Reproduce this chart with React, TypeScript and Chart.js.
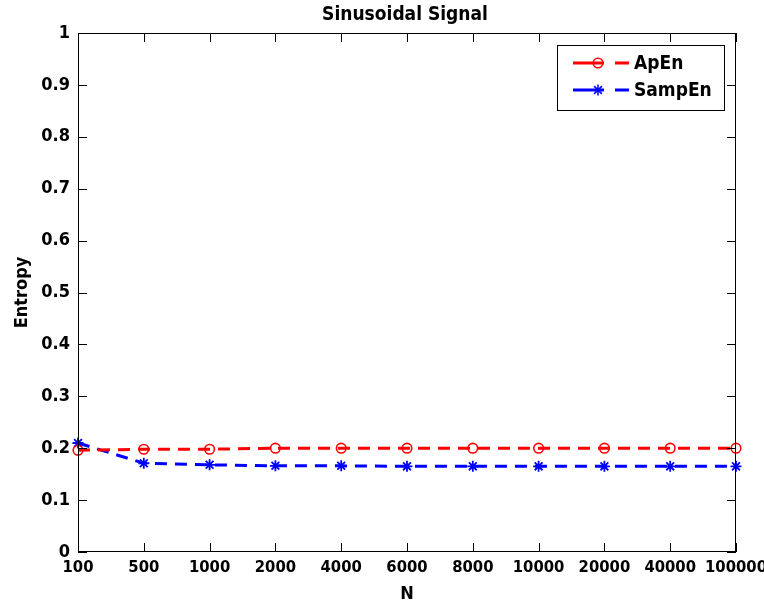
import React, { useEffect, useRef } from "react";
import { Chart, registerables } from "chart.js";

Chart.register(...registerables);

const categories = ["100", "500", "1000", "2000", "4000", "6000", "8000", "10000", "20000", "40000", "100000"];
const apEn = [0.196, 0.198, 0.198, 0.2, 0.2, 0.2, 0.2, 0.2, 0.2, 0.2, 0.2];
const sampEn = [0.21, 0.171, 0.168, 0.166, 0.166, 0.165, 0.165, 0.165, 0.165, 0.165, 0.165];
const titleText = "Sinusoidal Signal";
const xTitle = "N";
const yTitle = "Entropy";

const FONT = '"Liberation Sans Narrow", "DejaVu Sans Condensed", "Liberation Sans", sans-serif';
const FS = 18;

const framePlugin = {
  id: "frame",
  afterDatasetsDraw(chart: any) {
    const { ctx, chartArea: a, scales } = chart;
    ctx.save();
    ctx.strokeStyle = "#000";
    ctx.lineWidth = 1;
    ctx.setLineDash([]);
    ctx.strokeRect(a.left + 0.5, a.top + 0.5, a.right - a.left - 1, a.bottom - a.top - 1);
    const TL = 9;
    ctx.beginPath();
    const xs = scales.x;
    for (let i = 0; i < xs.ticks.length; i++) {
      const px = Math.round(xs.getPixelForTick(i)) + 0.5;
      ctx.moveTo(px, a.bottom);
      ctx.lineTo(px, a.bottom - TL);
      ctx.moveTo(px, a.top);
      ctx.lineTo(px, a.top + TL);
    }
    const ys = scales.y;
    for (let i = 0; i < ys.ticks.length; i++) {
      const py = Math.round(ys.getPixelForTick(i)) + 0.5;
      ctx.moveTo(a.left, py);
      ctx.lineTo(a.left + TL, py);
      ctx.moveTo(a.right, py);
      ctx.lineTo(a.right - TL, py);
    }
    ctx.stroke();

    // title
    ctx.fillStyle = "#000";
    ctx.font = `bold ${FS + 1}px ${FONT}`;
    ctx.textAlign = "center";
    ctx.textBaseline = "middle";
    ctx.fillText(titleText, (a.left + a.right) / 2 - 2, 15);

    // legend
    const lx = 557, ly = 45, lw = 167, lh = 65;
    ctx.fillStyle = "#fff";
    ctx.fillRect(lx, ly, lw, lh);
    ctx.strokeStyle = "#000";
    ctx.lineWidth = 1;
    ctx.strokeRect(lx + 0.5, ly + 0.5, lw, lh);
    chart.data.datasets.forEach((ds: any, i: number) => {
      const y = 63 + i * 27;
      ctx.strokeStyle = ds.borderColor;
      ctx.lineWidth = ds.borderWidth;
      ctx.beginPath();
      ctx.moveTo(573, y);
      ctx.lineTo(604, y);
      ctx.moveTo(615, y);
      ctx.lineTo(629, y);
      ctx.stroke();
      const cx = 598;
      ctx.lineWidth = 1.5;
      ctx.beginPath();
      if (ds.pointStyle === "circle") {
        ctx.arc(cx, y, ds.pointRadius, 0, Math.PI * 2);
      } else {
        const r = ds.pointRadius;
        for (let k = 0; k < 4; k++) {
          const ang = (k * Math.PI) / 4;
          ctx.moveTo(cx + r * Math.cos(ang), y + r * Math.sin(ang));
          ctx.lineTo(cx - r * Math.cos(ang), y - r * Math.sin(ang));
        }
      }
      ctx.stroke();
      ctx.fillStyle = "#000";
      ctx.font = `bold ${FS + 1}px ${FONT}`;
      ctx.textAlign = "left";
      ctx.textBaseline = "middle";
      ctx.fillText(ds.label, 634, y + 1);
    });
    ctx.restore();
  },
};

export default function App() {
  const ref = useRef<HTMLCanvasElement>(null);
  useEffect(() => {
    if (!ref.current) return;
    const chart = new Chart(ref.current, {
      type: "line",
      data: {
        labels: categories,
        datasets: [
          {
            label: "ApEn",
            data: apEn,
            borderColor: "#ff0000",
            backgroundColor: "rgba(0,0,0,0)",
            borderWidth: 3,
            borderDash: [12, 8],
            pointStyle: "circle",
            pointRadius: 4.8,
            pointBorderWidth: 1.6,
            pointBackgroundColor: "rgba(0,0,0,0)",
            pointBorderColor: "#ff0000",
            tension: 0,
          },
          {
            label: "SampEn",
            data: sampEn,
            borderColor: "#0000ff",
            backgroundColor: "rgba(0,0,0,0)",
            borderWidth: 3,
            borderDash: [12, 8],
            pointStyle: "star",
            pointRadius: 5.5,
            pointBorderWidth: 1.8,
            pointBackgroundColor: "#0000ff",
            pointBorderColor: "#0000ff",
            tension: 0,
          },
        ],
      },
      options: {
        animation: false,
        responsive: false,
        layout: { padding: { top: 33, right: 28, left: 0, bottom: 0 } },
        plugins: {
          legend: { display: false },
          title: { display: false },
          tooltip: { enabled: false },
        },
        scales: {
          x: {
            type: "category",
            offset: false,
            grid: { display: false },
            border: { display: false },
            ticks: {
              color: "#000",
              font: { family: FONT, size: 16.5, weight: "bold" },
              padding: -2,
              maxRotation: 0,
              autoSkip: false,
            },
            title: {
              display: true,
              text: xTitle,
              color: "#000",
              font: { family: FONT, size: FS, weight: "bold" },
              padding: { top: 0, bottom: 3 },
            },
            afterFit(s: any) {
              s.height = 56;
              s.paddingRight = 0;
              s.paddingLeft = 0;
            },
          },
          y: {
            min: 0,
            max: 1,
            grid: { display: false },
            border: { display: false },
            ticks: {
              stepSize: 0.1,
              color: "#000",
              font: { family: FONT, size: FS, weight: "bold" },
              padding: 0,
              callback: (v: any) => String(Math.round(Number(v) * 10) / 10),
            },
            title: {
              display: true,
              text: yTitle,
              color: "#000",
              font: { family: FONT, size: FS, weight: "bold" },
              padding: { top: 12, bottom: 0 },
            },
            afterFit(s: any) {
              s.width = 78;
            },
          },
        },
      },
      plugins: [framePlugin],
    });
    return () => chart.destroy();
  }, []);
  return (
    <div style={{ position: "fixed", left: 0, top: 0, width: 764, height: 608, background: "#fff" }}>
      <canvas ref={ref} width={764} height={608} style={{ width: 764, height: 608 }} />
    </div>
  );
}
